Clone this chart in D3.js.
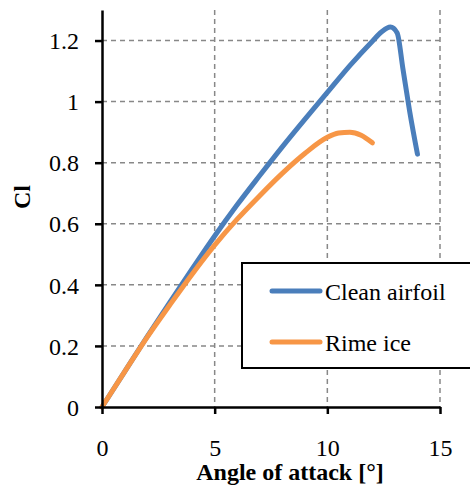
<!DOCTYPE html>
<html>
<head>
<meta charset="utf-8">
<script src="https://cdn.jsdelivr.net/npm/d3@7"></script>
<style>
  html, body { margin: 0; padding: 0; background: #fff; }
  svg text { font-family: "Liberation Serif", Tinos, "Times New Roman", serif !important; }
  .grid line { stroke: #888; stroke-width: 1.5; stroke-dasharray: 5 4; }
  .axis path, .axis line { stroke: #000; stroke-width: 2.5; }
</style>
</head>
<body>
<svg id="chart" width="470" height="487"></svg>
<script>
  const xTicks = [0, 5, 10, 15];
  const yTicks = [0, 0.2, 0.4, 0.6, 0.8, 1, 1.2];

  const cleanAngle = [0, 1, 2, 3, 4, 5, 6, 7, 8, 9, 10, 11, 12, 12.4, 12.8, 13.1, 13.35, 13.65, 14];
  const cleanCl = [0, 0.115, 0.23, 0.342, 0.452, 0.56, 0.662, 0.758, 0.852, 0.942, 1.03, 1.118, 1.198, 1.228, 1.244, 1.225, 1.11, 0.97, 0.828];

  const rimeAngle = [0, 1, 2, 3, 4, 5, 6, 7, 8, 9, 10, 10.5, 11, 11.5, 12];
  const rimeCl = [0, 0.115, 0.228, 0.333, 0.435, 0.53, 0.615, 0.692, 0.765, 0.83, 0.883, 0.897, 0.9, 0.89, 0.865];

  const seriesNames = ["Clean airfoil", "Rime ice"];
  const seriesColors = ["#4a7ebb", "#f79646"];

  const series = [
    { name: seriesNames[0], color: seriesColors[0], values: cleanAngle.map((a, i) => ({ a, cl: cleanCl[i] })) },
    { name: seriesNames[1], color: seriesColors[1], values: rimeAngle.map((a, i) => ({ a, cl: rimeCl[i] })) }
  ];

  const svg = d3.select("#chart");
  const x = d3.scaleLinear().domain([0, 15]).range([102, 440]);
  const y = d3.scaleLinear().domain([0, 1.3]).range([407, 10]);

  // gridlines
  const grid = svg.append("g").attr("class", "grid");
  grid.selectAll(".v").data(xTicks.slice(1)).join("line")
    .attr("x1", d => x(d)).attr("x2", d => x(d))
    .attr("y1", y(1.3)).attr("y2", y(0));
  grid.selectAll(".h").data(yTicks.slice(1)).join("line")
    .attr("x1", x(0)).attr("x2", x(15))
    .attr("y1", d => y(d)).attr("y2", d => y(d));

  const line = d3.line()
    .x(d => x(d.a))
    .y(d => y(d.cl))
    .curve(d3.curveMonotoneX);

  svg.append("g").selectAll("path")
    .data(series)
    .join("path")
    .attr("fill", "none")
    .attr("stroke", d => d.color)
    .attr("stroke-width", 5)
    .attr("stroke-linecap", "round")
    .attr("stroke-linejoin", "round")
    .attr("d", d => line(d.values));

  // axes
  const yAxis = svg.append("g")
    .attr("class", "axis")
    .attr("transform", `translate(${x(0)},0)`)
    .call(d3.axisLeft(y).tickValues(yTicks).tickSize(7).tickSizeOuter(0).tickPadding(16).tickFormat(d3.format("~g")));
  yAxis.selectAll("text").attr("dy", "0.34em");

  const xAxis = svg.append("g")
    .attr("class", "axis")
    .attr("transform", `translate(0,${y(0)})`)
    .call(d3.axisBottom(x).tickValues(xTicks).tickSize(7).tickSizeOuter(0).tickPadding(30));
  xAxis.selectAll("text").attr("dy", "0.5em");

  svg.selectAll(".axis").attr("font-family", null).attr("font-size", 24);
  svg.selectAll(".axis text").attr("fill", "#000");

  svg.append("text")
    .attr("font-size", 24)
    .attr("font-weight", "bold")
    .attr("x", 290)
    .attr("y", 480)
    .attr("text-anchor", "middle")
    .text("Angle of attack [°]");

  svg.append("text")
    .attr("font-size", 24)
    .attr("font-weight", "bold")
    .attr("transform", "translate(30,197) rotate(-90)")
    .attr("text-anchor", "middle")
    .text("Cl");

  // legend
  const legend = svg.append("g");
  legend.append("rect")
    .attr("x", 242).attr("y", 263)
    .attr("width", 236).attr("height", 105)
    .attr("fill", "#fff")
    .attr("stroke", "#000")
    .attr("stroke-width", 2);

  const item = legend.selectAll(".item")
    .data(series)
    .join("g")
    .attr("transform", (d, i) => `translate(0,${291 + i * 51})`);
  item.append("line")
    .attr("x1", 272).attr("x2", 320)
    .attr("stroke", d => d.color)
    .attr("stroke-width", 5)
    .attr("stroke-linecap", "round");
  item.append("text")
    .attr("font-size", 24)
    .attr("x", 325)
    .attr("y", 9)
    .text(d => d.name);
</script>
</body>
</html>
